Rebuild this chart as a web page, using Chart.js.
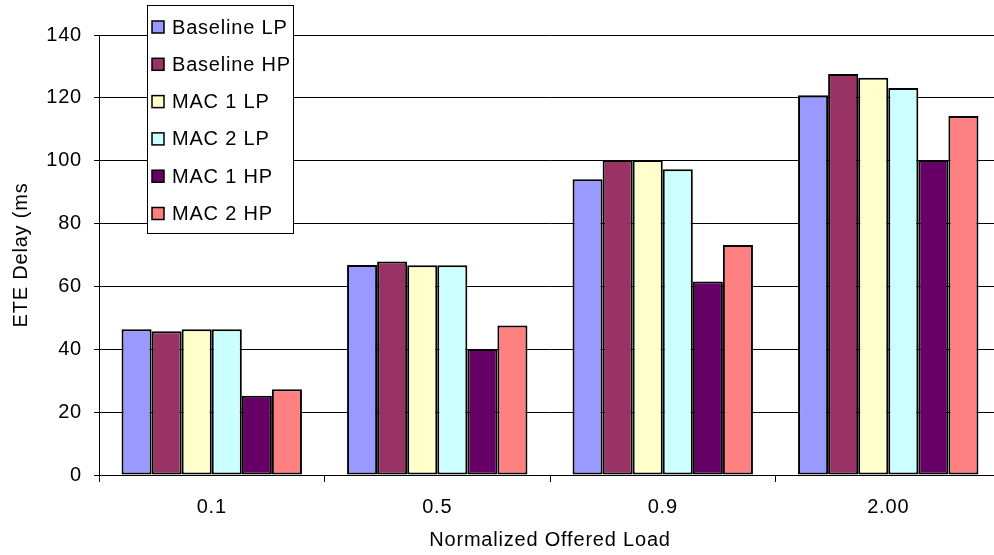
<!DOCTYPE html>
<html>
<head>
<meta charset="utf-8">
<script src="https://cdn.jsdelivr.net/npm/chart.js@4.4.1/dist/chart.umd.min.js"></script>
<style>
  html, body { margin: 0; padding: 0; background: #fff; overflow: hidden; }
</style>
</head>
<body>
<canvas id="myChart" width="1010" height="555"></canvas>
<script>
// values
const categories = ['0.1', '0.5', '0.9', '2.00']
const baselineLP = [46.4, 66.8, 94.1, 120.8]
const baselineHP = [45.7, 67.9, 100.2, 127.6]
const mac1LP = [46.4, 66.7, 100.2, 126.4]
const mac2LP = [46.4, 66.7, 97.3, 123.1]
const mac1HP = [25.2, 40.1, 61.6, 100.2]
const mac2HP = [27.3, 47.6, 73.2, 114.2]
const yTicks = [0, 20, 40, 60, 80, 100, 120, 140]

Chart.defaults.font.family = "'Liberation Sans', Arial, sans-serif"
Chart.defaults.font.size = 20
Chart.defaults.color = '#000'

// excel text looks a bit stretched, so widen letters a little
const spacing = {
  id: 'spacing',
  beforeLayout(chart) { chart.ctx.letterSpacing = '0.8px' },
  beforeDraw(chart) { chart.ctx.letterSpacing = '0.8px' }
}

// legend box sitting over the plot, like the excel one
const boxLegend = {
  id: 'boxLegend',
  afterDraw(chart) {
    const ctx = chart.ctx
    ctx.save()
    ctx.fillStyle = '#fff'
    ctx.fillRect(147, 5, 146, 228)
    ctx.strokeStyle = '#000'
    ctx.lineWidth = 1
    ctx.strokeRect(147.5, 5.5, 146, 228)
    ctx.font = "20px 'Liberation Sans', Arial, sans-serif"
    ctx.textBaseline = 'middle'
    chart.data.datasets.forEach((ds, i) => {
      let y = 27 + i * 37.3
      ctx.fillStyle = ds.backgroundColor
      ctx.fillRect(152, y - 6, 12, 12)
      ctx.strokeStyle = '#000'
      ctx.lineWidth = 1.5
      ctx.strokeRect(152, y - 6, 12, 12)
      ctx.fillStyle = '#000'
      ctx.fillText(ds.label, 172, y + 1)
    })
    ctx.restore()
  }
}

function bar(label, data, color) {
  return {
    label: label,
    data: data,
    backgroundColor: color,
    borderColor: '#000',
    borderWidth: 2,
    borderSkipped: false,
    categoryPercentage: 0.8,
    barPercentage: 1.0
  }
}

const ctx = document.getElementById('myChart')

new Chart(ctx, {
  type: 'bar',
  data: {
    labels: categories,
    datasets: [
      bar('Baseline LP', baselineLP, '#9999FF'),
      bar('Baseline HP', baselineHP, '#993366'),
      bar('MAC 1 LP', mac1LP, '#FFFFCC'),
      bar('MAC 2 LP', mac2LP, '#CCFFFF'),
      bar('MAC 1 HP', mac1HP, '#660066'),
      bar('MAC 2 HP', mac2HP, '#FF8080')
    ]
  },
  options: {
    responsive: false,
    animation: false,
    layout: { padding: { top: 35, right: 9, left: 0, bottom: 0 } },
    plugins: {
      legend: { display: false },
      tooltip: { enabled: false }
    },
    scales: {
      x: {
        grid: {
          display: true,
          drawOnChartArea: false,
          drawTicks: true,
          tickLength: 7,
          color: '#000',
          offset: true
        },
        border: { display: true, color: '#000', width: 1 },
        ticks: { padding: 13, maxRotation: 0 },
        title: {
          display: true,
          text: 'Normalized Offered Load',
          padding: { top: 0, bottom: 3 }
        },
        afterFit(scale) { scale.height = 80 }
      },
      y: {
        min: 0,
        max: 140,
        afterBuildTicks(scale) { scale.ticks = yTicks.map(v => ({ value: v })) },
        grid: { color: '#000', lineWidth: 1, drawTicks: true, tickLength: 5 },
        border: { display: true, color: '#000', width: 1 },
        ticks: { padding: 12 },
        title: {
          display: true,
          text: 'ETE Delay (ms',
          padding: { top: 9, bottom: 0 }
        },
        afterFit(scale) { scale.width = 99 }
      }
    }
  },
  plugins: [spacing, boxLegend]
})
</script>
</body>
</html>
